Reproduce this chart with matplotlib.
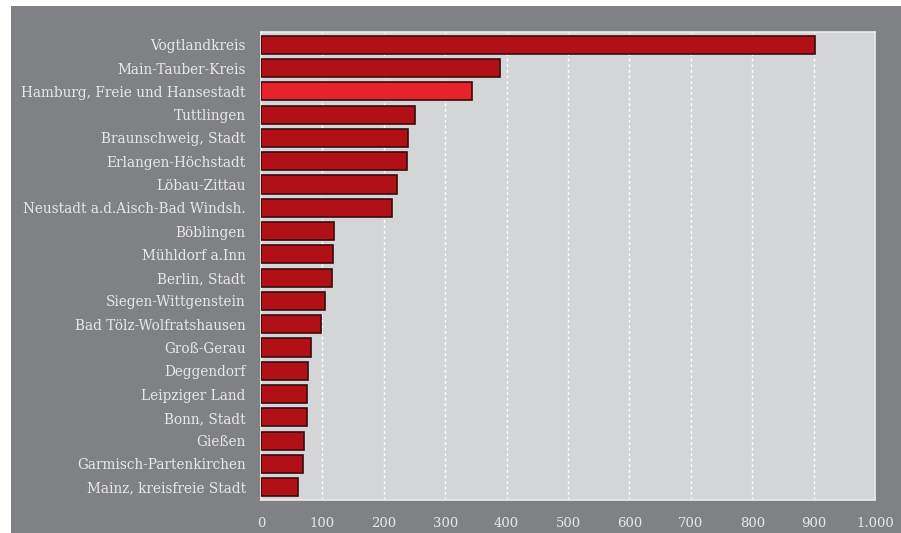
import matplotlib
matplotlib.use("Agg")
import matplotlib.pyplot as plt
from matplotlib.patches import Rectangle
from matplotlib.ticker import FuncFormatter, MultipleLocator

regions = ["Vogtlandkreis", "Main-Tauber-Kreis", "Hamburg, Freie und Hansestadt",
           "Tuttlingen", "Braunschweig, Stadt", "Erlangen-Höchstadt",
           "Löbau-Zittau", "Neustadt a.d.Aisch-Bad Windsh.", "Böblingen",
           "Mühldorf a.Inn", "Berlin, Stadt", "Siegen-Wittgenstein",
           "Bad Tölz-Wolfratshausen", "Groß-Gerau", "Deggendorf",
           "Leipziger Land", "Bonn, Stadt", "Gießen",
           "Garmisch-Partenkirchen", "Mainz, kreisfreie Stadt"]
values = [902, 390, 344, 251, 240, 238, 222, 214, 119, 118,
          116, 104, 97, 81, 76, 75, 75, 70, 68, 60]
highlight = "Hamburg, Freie und Hansestadt"

W, H = 901, 533
fig = plt.figure(figsize=(W / 100, H / 100), dpi=100, facecolor="white")
# dark grey panel behind everything, leaving a thin white margin top/left
fig.patches.append(Rectangle((11 / W, 0), 1 - 11 / W, 1 - 6 / H,
                             transform=fig.transFigure, facecolor="#808184",
                             edgecolor="none", zorder=-10))

ax = fig.add_axes([261 / W, 1 - 500 / H, (875 - 261) / W, (500 - 32) / H])
ax.set_facecolor("#d4d5d7")
for s in ax.spines.values():
    s.set_color("#ebebeb")
    s.set_linewidth(1.2)

colors = ["#e8222a" if r == highlight else "#b01016" for r in regions]
y = range(len(regions))
ax.barh(y, values, height=0.78, color=colors, edgecolor="#3a0c0c",
        linewidth=1.2, zorder=3)

ax.set_xlim(0, 1000)
ax.set_ylim(len(regions) - 0.45, -0.55)
ax.xaxis.set_major_locator(MultipleLocator(100))
ax.xaxis.set_major_formatter(FuncFormatter(
    lambda v, _: f"{int(v):,}".replace(",", ".")))
ax.grid(axis="x", color="white", linestyle=(0, (2, 2)), linewidth=1.0, zorder=1)
ax.set_yticks(list(y))
ax.set_yticklabels(regions)
ax.tick_params(length=0, colors="#e6e6e6", labelsize=9.8)
ax.tick_params(axis="y", pad=11)
ax.tick_params(axis="x", pad=12)
for lab in ax.get_xticklabels() + ax.get_yticklabels():
    lab.set_fontfamily("DejaVu Serif")
    lab.set_color("#e8e8e8")
for lab in ax.get_xticklabels():
    lab.set_fontsize(9.5)

fig.savefig("out.png", dpi=100, facecolor=fig.get_facecolor())
